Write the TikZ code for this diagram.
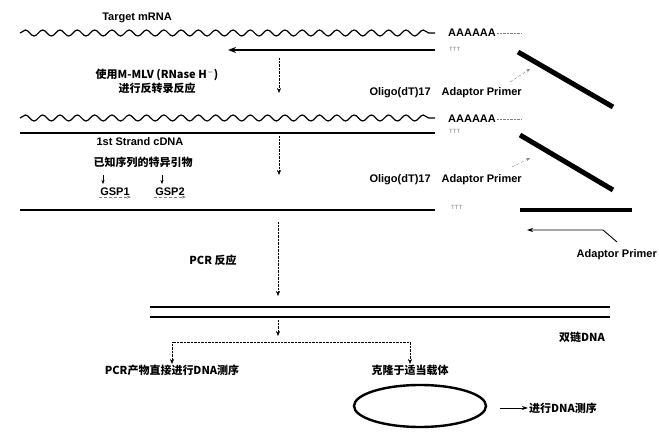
\documentclass[tikz,border=0pt]{standalone}
\usepackage{fontspec}
\setmainfont{Liberation Sans}
\newfontfamily\cjk{Noto Sans CJK SC}
\usetikzlibrary{arrows.meta, decorations.pathmorphing, shapes.geometric}

\begin{document}
\begin{tikzpicture}[
        x=1pt, y=-1pt,
        font=\fontsize{11}{13}\selectfont\bfseries,
        wave/.style={line width=1.2pt, decorate, decoration={snake, segment length=17.3pt, amplitude=3pt}},
        strand/.style={line width=1.6pt},
        bar/.style={line width=5pt},
        arrow/.style={line width=1.6pt, -{Stealth[length=8pt, width=6pt]}},
        thinarrow/.style={line width=0.9pt, -{Stealth[length=6pt, width=4pt]}},
        flow/.style={densely dotted, -{Stealth[length=5pt, width=4pt]}},
        primer/.style={gray, densely dashed, thin, -{Stealth[length=4pt, width=3pt]}},
        tail/.style={gray, densely dotted, thin},
        small/.style={font=\fontsize{6}{7}\selectfont, text=gray, inner sep=1pt},
        zh/.style={font=\cjk\bfseries\fontsize{11}{14}\selectfont, inner sep=1pt}
    ]
    \useasboundingbox (0,0) rectangle (659,435);

    % Coordinates
    \coordinate (w1a) at (20,33);   \coordinate (w1b) at (435,33);
    \coordinate (c1a) at (228,50);  \coordinate (c1b) at (435,50);
    \coordinate (o1a) at (518,52);  \coordinate (o1b) at (613,107);
    \coordinate (p1a) at (510,82);  \coordinate (p1b) at (530,69);
    \coordinate (s1a) at (279,58);  \coordinate (s1b) at (279,93);
    \coordinate (w2a) at (20,118);  \coordinate (w2b) at (435,118);
    \coordinate (c2a) at (20,133);  \coordinate (c2b) at (435,133);
    \coordinate (o2a) at (520,135); \coordinate (o2b) at (613,190);
    \coordinate (p2a) at (512,167); \coordinate (p2b) at (530,158);
    \coordinate (s2a) at (279,136); \coordinate (s2b) at (279,175);
    \coordinate (g1a) at (103,175); \coordinate (g1b) at (103,184);
    \coordinate (g2a) at (162,175); \coordinate (g2b) at (162,184);
    \coordinate (c3a) at (20,210);  \coordinate (c3b) at (435,210);
    \coordinate (a3a) at (520,210); \coordinate (a3b) at (632,210);
    \coordinate (ap1) at (617,242); \coordinate (ap2) at (603,230); \coordinate (ap3) at (527,230);
    \coordinate (s3a) at (278,222); \coordinate (s3b) at (278,296);
    \coordinate (d1a) at (150,307); \coordinate (d1b) at (610,307);
    \coordinate (d2a) at (150,317); \coordinate (d2b) at (610,317);
    \coordinate (s4a) at (278,320); \coordinate (s4b) at (278,336);
    \coordinate (fork) at (278,342);
    \coordinate (e1) at (500,408);

    % Nodes
    \node (target) at (137,18) {Target mRNA};
    \node (polya1) [anchor=west, inner sep=1pt] at (447,33) {AAAAAA};
    \node (ttt1) [small, anchor=west] at (448,49) {TTT};
    \node (rt) [zh, align=center] at (157,81) {使用M-MLV (RNase H$^{-}$)\\进行反转录反应};
    \node (oligo1) [anchor=west] at (366,93) {Oligo(dT)17\quad Adaptor Primer};
    \node (polya2) [anchor=west, inner sep=1pt] at (447,119) {AAAAAA};
    \node (ttt2) [small, anchor=west] at (448,131) {TTT};
    \node (cdna) at (140,142) {1st Strand cDNA};
    \node (gsp) [zh] at (143,162) {已知序列的特异引物};
    \node (gsp1) [inner sep=1pt] at (115,192) {GSP1};
    \node (gsp2) [inner sep=1pt] at (170,192) {GSP2};
    \node (oligo2) [anchor=west] at (366,180) {Oligo(dT)17\quad Adaptor Primer};
    \node (ttt3) [small, anchor=west] at (450,207) {TTT};
    \node (adaptor) [anchor=east, inner sep=1pt] at (658,255) {Adaptor Primer};
    \node (pcr) [zh] at (213,260) {PCR 反应};
    \node (dsdna) [zh] at (582,337) {双链DNA};
    \node (direct) [zh, anchor=north] at (172,364) {PCR产物直接进行DNA测序};
    \node (clone) [zh, anchor=north] at (410,364) {克隆于适当载体};
    \node (vector) [ellipse, draw, line width=2.4pt, minimum width=132pt, minimum height=42pt] at (420,406) {};
    \node (seq) [zh, anchor=west] at (528,408) {进行DNA测序};

    % Strands
    \draw [wave] (w1a) -- (w1b);
    \draw [arrow] (c1b) -- (c1a);
    \draw [tail] (polya1.east) -- ++(24,0);
    \draw [bar] (o1a) -- (o1b);
    \draw [wave] (w2a) -- (w2b);
    \draw [strand] (c2a) -- (c2b);
    \draw [tail] (polya2.east) -- ++(24,0);
    \draw [bar] (o2a) -- (o2b);
    \draw [strand] (c3a) -- (c3b);
    \draw [bar, line width=4pt] (a3a) -- (a3b);
    \draw [strand] (d1a) -- (d1b);
    \draw [strand] (d2a) -- (d2b);

    % Arrows
    \draw [primer] (p1a) -- (p1b);
    \draw [primer] (p2a) -- (p2b);
    \draw [flow] (s1a) -- (s1b);
    \draw [flow] (s2a) -- (s2b);
    \draw [flow] (s3a) -- (s3b);
    \draw [flow] (s4a) -- (s4b);
    \draw [-{Stealth[length=4pt, width=3pt]}] (g1a) -- (g1b);
    \draw [-{Stealth[length=4pt, width=3pt]}] (g2a) -- (g2b);
    \draw [primer] (gsp1.south west) -- (gsp1.south east);
    \draw [primer] (gsp2.south west) -- (gsp2.south east);
    \draw [thinarrow] (ap1) -- (ap2) -- (ap3);
    \draw [flow] (fork) -| (direct.north);
    \draw [flow] (fork) -| (clone.north);
    \draw [thinarrow] (e1) -- (seq.west);

\end{tikzpicture}
\end{document}
